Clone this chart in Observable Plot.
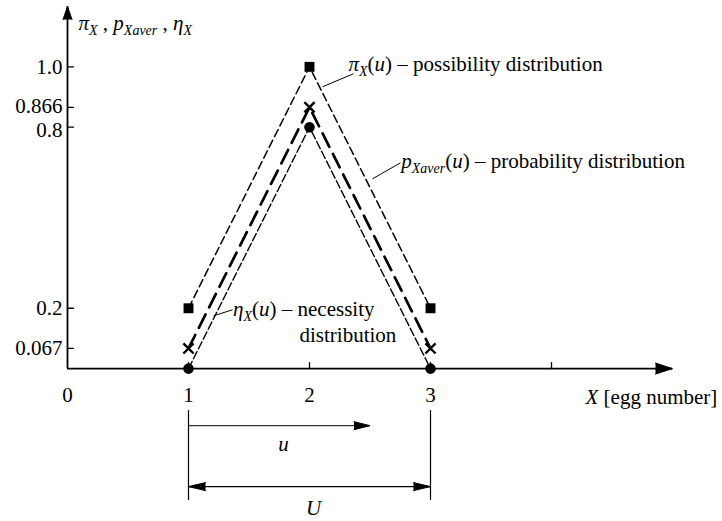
<!DOCTYPE html>
<html>
<head>
<meta charset="utf-8">
<script src="https://cdn.jsdelivr.net/npm/d3@7"></script>
<script src="https://cdn.jsdelivr.net/npm/@observablehq/plot@0.6"></script>
<style>
  html, body { margin: 0; padding: 0; background: #fff; overflow: hidden; }
  #chart svg, #chart svg text, #chart svg tspan { font-family: "Liberation Serif", "Times New Roman", serif !important; }
</style>
</head>
<body>
<div id="chart"></div>
<script>
// Egg numbers u on the X axis and the three distributions defined over them
const eggNumbers  = [1, 2, 3];
const possibility = [0.2, 1.0, 0.2];       // π_X(u)
const probability = [0.067, 0.866, 0.067]; // p_Xaver(u)
const necessity   = [0, 0.8, 0];           // η_X(u)

// Axis ticks and their labels
const yTicks      = [0.067, 0.2, 0.8, 0.866, 1.0];
const yTickLabels = ["0.067", "0.2", "0.8", "0.866", "1.0"];
const xTicks      = [1, 2, 3, 4];
const xLabelAt    = [0, 1, 2, 3];
const xTickLabels = ["0", "1", "2", "3"];

// Ranges shown under the axis: u runs from the first egg, U covers all eggs
const uSpan = [1, 2.5];
const USpan = [1, 3];

const rows = eggNumbers.map((u, i) => ({
  u, possibility: possibility[i], probability: probability[i], necessity: necessity[i]
}));
const yLabelRows = yTicks.map((v, i) => ({v, label: yTickLabels[i]}));

// Rich labels: [text, style] with style "i" = italic, "s" = italic subscript
const richLabels = new Map();
function rich(segments) {
  const plain = segments.map(s => s[0]).join("");
  richLabels.set(plain, segments);
  return plain;
}
const axisTitle = rich([["π","i"],["X","s"],[" , ",""],["p","i"],["Xaver","s"],[" , ",""],["η","i"],["X","s"]]);
const possLabel = rich([["π","i"],["X","s"],["(",""],["u","i"],[") – possibility distribution",""]]);
const probLabel = rich([["p","i"],["Xaver","s"],["(",""],["u","i"],[") – probability distribution",""]]);
const necLabel  = rich([["η","i"],["X","s"],["(",""],["u","i"],[") – necessity",""]]);
const xTitle    = rich([["X","i"],[" [egg number]",""]]);
const uLabel    = rich([["u","i"]]);
const ULabel    = rich([["U","i"]]);

const yMax = 1.2;
const yMin = -0.5066;
const xMax = 5;

const tickShape = {
  draw(context, l) { context.moveTo(0, 0); context.lineTo(0, -l); }
};
const head = {shape: "spike", anchor: "end", fill: "black", stroke: "black", strokeWidth: 1};
const FS = 21;
const FF = "Liberation Serif";
const yLabel = {x: 0, y: "v", text: "label", textAnchor: "end", dx: -5, fontSize: FS, fontFamily: FF};

const svg = Plot.plot({
  width: 722,
  height: 521,
  marginLeft: 67,
  marginRight: 50,
  marginTop: 6,
  marginBottom: 0,
  style: {fontFamily: "Liberation Serif, serif", background: "#fff", color: "black"},
  x: {domain: [0, xMax], axis: null},
  y: {domain: [yMin, yMax], axis: null},
  marks: [
    // axes
    Plot.ruleY([0], {x1: 0, x2: xMax, strokeWidth: 1.8}),
    Plot.ruleX([0], {y1: 0, y2: yMax, strokeWidth: 1.8}),
    Plot.vector([0], {x: xMax, y: 0, rotate: 90, length: 17, r: 5.5, ...head}),
    Plot.vector([0], {x: 0, y: yMax, rotate: 0, length: 13, r: 4.5, ...head}),
    Plot.vector(yTicks, {x: 0, y: d => d, rotate: 90, length: 6, anchor: "start", shape: tickShape, stroke: "black", strokeWidth: 1.3}),
    Plot.vector(xTicks, {x: d => d, y: 0, rotate: 0, length: 6, anchor: "start", shape: tickShape, stroke: "black", strokeWidth: 1.3}),
    // the two close labels 0.866 and 0.8 are nudged apart
    Plot.text(yLabelRows, {...yLabel, filter: d => d.label !== "0.866" && d.label !== "0.8"}),
    Plot.text(yLabelRows, {...yLabel, filter: d => d.label === "0.866", dy: -1.5}),
    Plot.text(yLabelRows, {...yLabel, filter: d => d.label === "0.8", dy: 3}),
    Plot.text(xLabelAt, {x: d => d, y: 0, text: (d, i) => xTickLabels[i], dy: 27, fontSize: FS, fontFamily: FF}),
    Plot.text([axisTitle], {x: 0, y: 1.145, dx: 11, textAnchor: "start", fontSize: FS, fontFamily: FF}),
    Plot.text([xTitle], {x: 4.281, y: 0, dy: 29, textAnchor: "start", fontSize: FS, fontFamily: FF}),

    // distributions
    Plot.line(rows, {x: "u", y: "possibility", stroke: "black", strokeWidth: 1.5, strokeDasharray: "8,4"}),
    Plot.line(rows, {x: "u", y: "necessity", stroke: "black", strokeWidth: 1.4, strokeDasharray: "8,3"}),
    Plot.line(rows, {x: "u", y: "probability", stroke: "black", strokeWidth: 2.7, strokeDasharray: "15,8"}),
    Plot.dot(rows, {x: "u", y: "possibility", symbol: "square", r: 5.6, fill: "black", stroke: "none"}),
    Plot.dot(rows, {x: "u", y: "necessity", symbol: "circle", r: 5.3, fill: "black", stroke: "none"}),
    Plot.dot(rows, {x: "u", y: "probability", symbol: "times", r: 4.7, stroke: "black", strokeWidth: 2.4}),

    // labels with leader lines
    Plot.link([0], {x1: 2.107, y1: 0.934, x2: 2.364, y2: 0.977, stroke: "black", strokeWidth: 1}),
    Plot.link([0], {x1: 2.521, y1: 0.629, x2: 2.752, y2: 0.682, stroke: "black", strokeWidth: 1}),
    Plot.link([0], {x1: 1.207, y1: 0.175, x2: 1.364, y2: 0.195, stroke: "black", strokeWidth: 1}),
    Plot.text([possLabel], {x: 2.322, y: 1.007, textAnchor: "start", fontSize: FS, fontFamily: FF}),
    Plot.text([probLabel], {x: 2.758, y: 0.686, textAnchor: "start", fontSize: FS, fontFamily: FF}),
    Plot.text([necLabel], {x: 1.368, y: 0.196, textAnchor: "start", fontSize: FS, fontFamily: FF}),
    Plot.text(["distribution"], {x: 1.917, y: 0.110, textAnchor: "start", fontSize: FS, fontFamily: FF}),

    // u and U ranges under the axis
    Plot.ruleX([USpan[0], USpan[1]], {y1: -0.139, y2: -0.437, stroke: "black", strokeWidth: 1.2}),
    Plot.link([uSpan], {x1: d => d[0], x2: d => d[1], y1: -0.189, y2: -0.189, stroke: "#333", strokeWidth: 1.2}),
    Plot.vector([uSpan], {x: d => d[1], y: -0.189, rotate: 90, length: 16, r: 4, ...head}),
    Plot.link([USpan], {x1: d => d[0], x2: d => d[1], y1: -0.391, y2: -0.391, stroke: "black", strokeWidth: 1.3}),
    Plot.vector([USpan], {x: d => d[0], y: -0.391, rotate: -90, length: 17, r: 4, ...head}),
    Plot.vector([USpan], {x: d => d[1], y: -0.391, rotate: 90, length: 17, r: 4, ...head}),
    Plot.text([uLabel], {x: 1.785, y: -0.25, fontSize: FS, fontFamily: FF}),
    Plot.text([ULabel], {x: 2.033, y: -0.462, fontSize: FS, fontFamily: FF})
  ]
});

// Turn the rich labels into italic runs and subscripts
const NS = "http://www.w3.org/2000/svg";
for (const el of svg.querySelectorAll("text")) {
  const segs = richLabels.get(el.textContent);
  if (!segs) continue;
  el.textContent = "";
  let shifted = false;
  for (const [t, style] of segs) {
    const ts = document.createElementNS(NS, "tspan");
    ts.textContent = t;
    if (style === "i" || style === "s") ts.setAttribute("font-style", "italic");
    if (style === "s") {
      ts.setAttribute("font-size", "14");
      if (!shifted) { ts.setAttribute("dy", "5"); shifted = true; }
    } else if (shifted) {
      ts.setAttribute("dy", "-5");
      shifted = false;
    }
    el.appendChild(ts);
  }
}

document.getElementById("chart").appendChild(svg);
</script>
</body>
</html>
